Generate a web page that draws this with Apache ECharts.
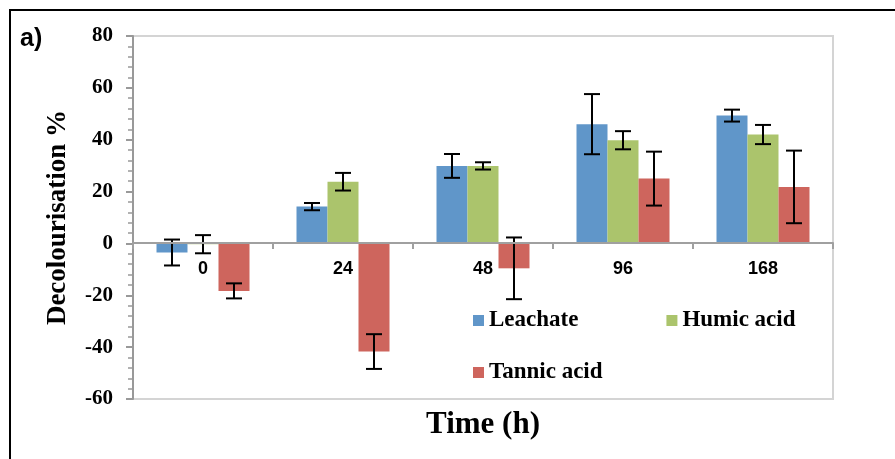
<!DOCTYPE html>
<html>
<head>
<meta charset="utf-8">
<script src="https://cdn.jsdelivr.net/npm/echarts@6/dist/echarts.min.js"></script>
<style>
html,body{margin:0;padding:0;background:#fff;}
#chart{width:895px;height:459px;}
</style>
</head>
<body>
<div id="chart"></div>
<script>
// time points (h)
var times = ['0', '24', '48', '96', '168'];
// decolourisation %
var leachate = [-3.5, 14.2, 29.9, 46.0, 49.3];
var leachateErr = [5.0, 1.4, 4.6, 11.6, 2.3];
var humic = [-0.3, 23.8, 29.9, 39.8, 42.0];
var humicErr = [3.5, 3.4, 1.4, 3.5, 3.7];
var tannic = [-18.3, -41.7, -9.6, 25.0, 21.8];
var tannicErr = [2.9, 6.7, 11.9, 10.4, 14.0];
var yTicks = [-60, -40, -20, 0, 20, 40, 60, 80];

var barW = 31;
var serif = 'Liberation Serif';
var sans = 'Liberation Sans';

function errSeries(vals, errs, k){
	return {
		type:'custom',
		z:5,
		silent:true,
		data:vals.map(function(v,i){ return [i, v, errs[i]]; }),
		encode:{x:0, y:1},
		renderItem:function(params, api){
			var i = api.value(0), v = api.value(1), e = api.value(2);
			var hi = api.coord([i, v + e]);
			var lo = api.coord([i, v - e]);
			var x = hi[0] + (k - 1) * barW;
			var st = {stroke:'#000', lineWidth:2};
			return {
				type:'group',
				children:[
					{type:'line', shape:{x1:x, y1:hi[1], x2:x, y2:lo[1]}, style:st},
					{type:'line', shape:{x1:x-8, y1:hi[1], x2:x+8, y2:hi[1]}, style:st},
					{type:'line', shape:{x1:x-8, y1:lo[1], x2:x+8, y2:lo[1]}, style:st}
				]
			};
		}
	};
}

var chart = echarts.init(document.getElementById('chart'));
chart.setOption({
	animation:false,
	backgroundColor:'#fff',
	grid:{
		left:133, right:62, top:36, bottom:60,
		show:true, borderColor:'#d4d4d4', borderWidth:2
	},
	legend:[
		{
			data:['Leachate','Humic acid'],
			left:468, top:304,
			itemWidth:11, itemHeight:11, itemGap:88,
			icon:'rect',
			textStyle:{fontFamily:serif, fontWeight:'bold', fontSize:23, color:'#000'}
		},
		{
			data:['Tannic acid'],
			left:468, top:356,
			itemWidth:11, itemHeight:11,
			icon:'rect',
			textStyle:{fontFamily:serif, fontWeight:'bold', fontSize:23, color:'#000'}
		}
	],
	xAxis:{
		type:'category',
		data:times,
		// axis drawn at the zero line (363px plot, 140 units -> 0 sits 156px above bottom)
		offset:-156,
		axisLine:{onZero:false, lineStyle:{color:'#a0a0a0', width:2}},
		axisTick:{show:true, length:6, lineStyle:{color:'#a0a0a0', width:2}},
		axisLabel:{margin:17, fontFamily:sans, fontWeight:'bold', fontSize:18, color:'#000'},
		z:6
	},
	yAxis:{
		type:'value',
		min:yTicks[0], max:yTicks[yTicks.length-1], interval:20,
		name:'Decolourisation %',
		nameLocation:'middle',
		nameGap:61,
		nameTextStyle:{fontFamily:serif, fontWeight:'bold', fontSize:27, color:'#000'},
		axisLine:{show:true, lineStyle:{color:'#999', width:2}},
		axisTick:{show:true, length:7, lineStyle:{color:'#999', width:2}},
		minorTick:{show:true, splitNumber:5, length:5, lineStyle:{color:'#999', width:1.5}},
		splitLine:{show:false},
		axisLabel:{margin:20, fontFamily:serif, fontWeight:'bold', fontSize:21, color:'#000'}
	},
	series:[
		{name:'Leachate', type:'bar', data:leachate, barWidth:barW, barGap:'0%', itemStyle:{color:'#6096c9'}},
		{name:'Humic acid', type:'bar', data:humic, barWidth:barW, barGap:'0%', itemStyle:{color:'#abc46c'}},
		{name:'Tannic acid', type:'bar', data:tannic, barWidth:barW, barGap:'0%', itemStyle:{color:'#ce655d'}},
		errSeries(leachate, leachateErr, 0),
		errSeries(humic, humicErr, 1),
		errSeries(tannic, tannicErr, 2)
	],
	graphic:[
		{type:'line', shape:{x1:9, y1:10, x2:895, y2:10}, style:{stroke:'#000', lineWidth:2}},
		{type:'line', shape:{x1:10, y1:9, x2:10, y2:459}, style:{stroke:'#000', lineWidth:2}},
		{type:'text', left:20, top:27, style:{text:'a)', fontFamily:sans, fontWeight:'bold', fontSize:25, fill:'#000'}},
		{type:'text', x:483, y:425, style:{text:'Time (h)', fontFamily:serif, fontWeight:'bold', fontSize:31, fill:'#000', align:'center', verticalAlign:'middle'}}
	]
});
</script>
</body>
</html>
